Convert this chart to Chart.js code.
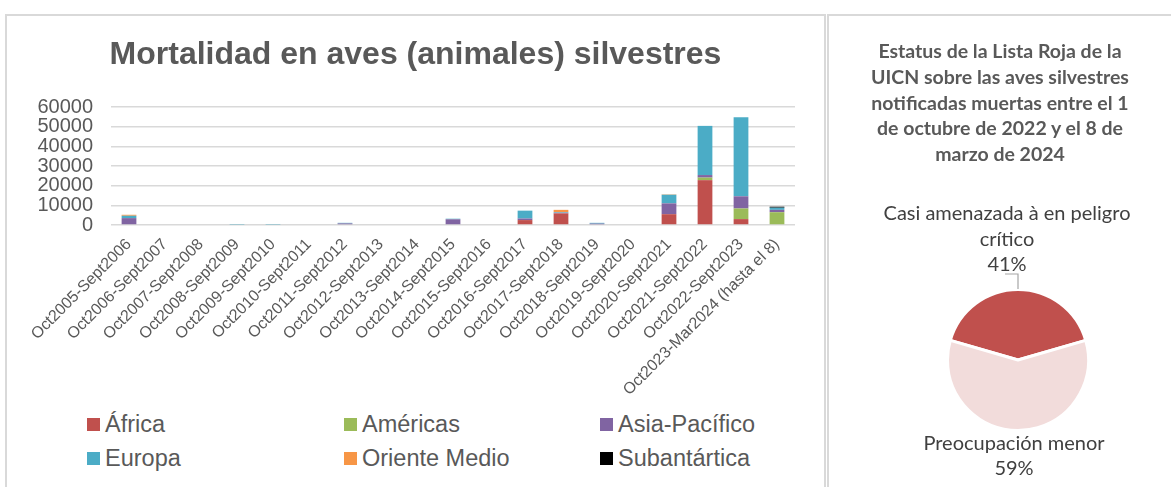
<!DOCTYPE html>
<html>
<head>
<meta charset="utf-8">
<script src="https://cdn.jsdelivr.net/npm/chart.js@4/dist/chart.umd.min.js"></script>
<style>
    body { margin: 0; width: 1171px; height: 487px; overflow: hidden; position: relative; background: #fff; font-family: "Liberation Sans", Arial, sans-serif; }
    .panel { position: absolute; border: 2px solid #d9d9d9; box-sizing: border-box; }
    #leftPanel { left: 5px; top: 14px; width: 821px; height: 520px; }
    #rightPanel { left: 827px; top: 14px; width: 360px; height: 520px; }
    #barWrap { position: absolute; left: 8px; top: 17px; width: 815px; height: 390px; }
    #pieWrap { position: absolute; left: 829px; top: 17px; width: 342px; height: 470px; }
    #pieTitle { position: absolute; left: 829px; top: 38px; width: 342px; text-align: center; font-family: Lato, "Open Sans", sans-serif; font-weight: bold; font-size: 19.5px; line-height: 25.8px; color: #595959; }
    .legend-item { position: absolute; height: 30px; display: flex; align-items: center; font-size: 23.5px; color: #595959; white-space: nowrap; }
    .legend-box { width: 13px; height: 13px; margin-right: 5px; }
</style>
</head>
<body>
<div class="panel" id="leftPanel"></div>
<div class="panel" id="rightPanel"></div>
<div id="barWrap"><canvas id="barChart"></canvas></div>
<div id="pieWrap"><canvas id="pieChart"></canvas></div>
<div id="pieTitle"></div>
<div id="legend"></div>
<script>
// bar chart data
const seasons = [
    'Oct2005-Sept2006', 'Oct2006-Sept2007', 'Oct2007-Sept2008', 'Oct2008-Sept2009',
    'Oct2009-Sept2010', 'Oct2010-Sept2011', 'Oct2011-Sept2012', 'Oct2012-Sept2013',
    'Oct2013-Sept2014', 'Oct2014-Sept2015', 'Oct2015-Sept2016', 'Oct2016-Sept2017',
    'Oct2017-Sept2018', 'Oct2018-Sept2019', 'Oct2019-Sept2020', 'Oct2020-Sept2021',
    'Oct2021-Sept2022', 'Oct2022-Sept2023', 'Oct2023-Mar2024 (hasta el 8)'
];
const africa      = [0, 0, 0, 0, 0, 0, 0, 0, 0, 0, 0, 2500, 5900, 0, 0, 5500, 22800, 3000, 0];
const americas    = [0, 0, 0, 0, 0, 0, 0, 0, 0, 0, 0, 0, 0, 0, 0, 0, 1300, 5400, 6500];
const asiaPacific = [3500, 0, 0, 0, 0, 0, 800, 0, 0, 2900, 0, 800, 300, 700, 0, 5500, 1300, 6200, 1200];
const europa      = [1200, 0, 0, 200, 200, 0, 300, 0, 0, 300, 0, 4000, 300, 400, 0, 4400, 25000, 40200, 1100];
const orienteMedio = [500, 0, 0, 0, 0, 0, 0, 0, 0, 0, 0, 0, 1200, 0, 0, 200, 0, 0, 0];
const subantartica = [0, 0, 0, 0, 0, 0, 0, 0, 0, 0, 0, 0, 0, 0, 0, 0, 0, 0, 500];
const yTicks = [0, 10000, 20000, 30000, 40000, 50000, 60000];

// pie data
const pieTitleLines = ['Estatus de la Lista Roja de la', 'UICN sobre las aves silvestres',
                       'notificadas muertas entre el 1', 'de octubre de 2022 y el 8 de', 'marzo de 2024'];
const statusLabels = [['Casi amenazada à en peligro', 'crítico'], ['Preocupación menor']];
const statusShares = [41, 59];

const grey = '#595959';
const seriesNames = ['África', 'Américas', 'Asia-Pacífico', 'Europa', 'Oriente Medio', 'Subantártica'];
const seriesColors = ['#C0504D', '#9BBB59', '#8064A2', '#4BACC6', '#F79646', '#000000'];
const seriesData = [africa, americas, asiaPacific, europa, orienteMedio, subantartica];

const barChart = new Chart(document.getElementById('barChart'), {
    type: 'bar',
    data: {
        labels: seasons,
        datasets: seriesNames.map((name, i) => ({
            label: name,
            data: seriesData[i],
            backgroundColor: seriesColors[i],
            borderWidth: 0,
            barPercentage: 0.41,
            categoryPercentage: 1
        }))
    },
    options: {
        responsive: true,
        maintainAspectRatio: false,
        animation: false,
        layout: { padding: { left: 28, right: 28, top: 0, bottom: 0 } },
        plugins: {
            legend: { display: false },
            tooltip: { enabled: false },
            title: {
                display: true,
                text: 'Mortalidad en aves (animales) silvestres',
                color: grey,
                font: { family: '"Liberation Sans", Arial, sans-serif', size: 32, weight: 'bold', lineHeight: 1.2 },
                padding: { top: 19, bottom: 32.6 }
            }
        },
        scales: {
            x: {
                stacked: true,
                grid: { display: false },
                border: { display: false },
                ticks: {
                    color: grey,
                    autoSkip: false,
                    minRotation: 45,
                    maxRotation: 45,
                    padding: 2,
                    font: { family: '"Liberation Sans", Arial, sans-serif', size: 16 }
                },
                afterFit(scale) { scale.height = 182; }
            },
            y: {
                stacked: true,
                min: 0,
                max: 60000,
                afterBuildTicks(scale) { scale.ticks = yTicks.map(v => ({ value: v })); },
                ticks: {
                    color: grey,
                    autoSkip: false,
                    padding: 18,
                    callback: v => String(v),
                    font: { family: '"Liberation Sans", Arial, sans-serif', size: 20, lineHeight: 1 }
                },
                grid: { color: '#d9d9d9', lineWidth: 1.5, drawTicks: false },
                border: { display: false },
                afterFit(scale) { scale.width = 75; }
            }
        }
    }
});

// html legend, three columns
const legendPos = [[87, 409], [344, 409], [600, 409], [87, 443], [344, 443], [600, 443]];
const legend = document.getElementById('legend');
barChart.data.datasets.forEach((ds, i) => {
    const item = document.createElement('div');
    item.className = 'legend-item';
    item.style.left = legendPos[i][0] + 'px';
    item.style.top = legendPos[i][1] + 'px';
    const box = document.createElement('span');
    box.className = 'legend-box';
    box.style.background = ds.backgroundColor;
    item.appendChild(box);
    item.appendChild(document.createTextNode(ds.label));
    legend.appendChild(item);
});

// right hand title (kept outside the canvas so it is not squeezed)
document.getElementById('pieTitle').innerHTML = pieTitleLines.join('<br>');

// labels around the pie
const pieLabels = {
    id: 'pieLabels',
    afterDraw(chart) {
        const ctx = chart.ctx;
        const arc = chart.getDatasetMeta(0).data[0];
        const cx = arc.x, cy = arc.y;
        const pct = chart.data.datasets[0].data;
        ctx.save();
        ctx.fillStyle = '#404040';
        ctx.font = '20px Lato, "Open Sans", sans-serif';
        ctx.textAlign = 'center';
        ctx.textBaseline = 'middle';
        const top = chart.data.labels[0].concat([pct[0] + '%']);
        top.forEach((t, i) => ctx.fillText(t, cx - 11, cy - 146 + i * 25.5));
        const bottom = chart.data.labels[1].concat([pct[1] + '%']);
        bottom.forEach((t, i) => ctx.fillText(t, cx - 4, cy + 84 + i * 24.5));
        // leader line
        ctx.strokeStyle = '#a6a6a6';
        ctx.lineWidth = 1.2;
        ctx.beginPath();
        ctx.moveTo(cx - 13, cy - 86);
        ctx.lineTo(cx, cy - 86);
        ctx.lineTo(cx, cy - 71);
        ctx.stroke();
        ctx.restore();
    }
};

new Chart(document.getElementById('pieChart'), {
    type: 'pie',
    data: {
        labels: statusLabels,
        datasets: [{
            data: statusShares,
            backgroundColor: ['#C0504D', '#F2DCDB'],
            borderColor: '#ffffff',
            borderWidth: 3,
            hoverOffset: 0
        }]
    },
    options: {
        responsive: true,
        maintainAspectRatio: false,
        animation: false,
        rotation: -73.8,
        layout: { padding: { left: 100, right: 64, top: 271, bottom: 55 } },
        plugins: {
            legend: { display: false },
            tooltip: { enabled: false }
        }
    },
    plugins: [pieLabels]
});
</script>
</body>
</html>
